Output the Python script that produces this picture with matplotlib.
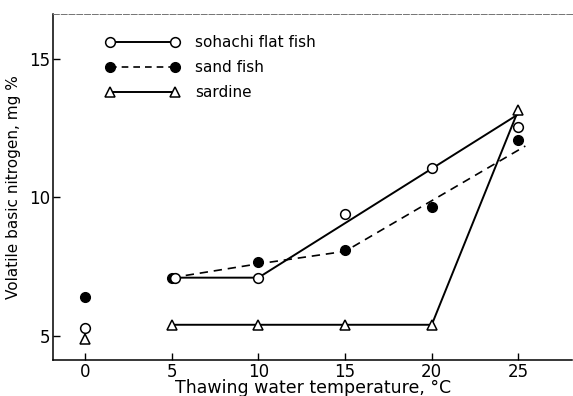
import numpy as np
from matplotlib import pyplot as plt

# thawing water temperature (C)
temps = [0, 5, 10, 15, 20, 25]

# volatile basic nitrogen, mg %
flatfish = [5.3, 7.1, 7.1, 9.4, 11.05, 12.55]
sandfish = [6.4, 7.1, 7.65, 8.1, 9.65, 12.05]
sardine = [4.9, 5.4, 5.4, 5.4, 5.4, 13.15]

# hand drawn trend lines (x, y knots)
flatfish_fit_x = [5, 10, 25]
flatfish_fit_y = [7.1, 7.1, 13.0]
sandfish_fit_x = [5, 10, 15, 25.4]
sandfish_fit_y = [7.1, 7.6, 8.05, 11.85]
sardine_fit_x = [5, 20, 25]
sardine_fit_y = [5.4, 5.4, 13.15]

fig = plt.figure(figsize=(5.73, 3.96), dpi=100)
ax = fig.add_axes([0.0925, 0.091, 0.906, 0.874])

ax.plot(flatfish_fit_x, flatfish_fit_y, '-', color='black', lw=1.4, zorder=2)
ax.plot(sandfish_fit_x, sandfish_fit_y, '--', color='black', lw=1.2, dashes=(5, 3.5), zorder=2)
ax.plot(sardine_fit_x, sardine_fit_y, '-', color='black', lw=1.4, zorder=2)

ax.plot(temps, sandfish, 'o', ms=7, mfc='black', mec='black', zorder=3)
ax.plot(np.array(temps) + np.array([0, 0.2, 0, 0, 0, 0]), flatfish, 'o', ms=7,
        mfc='white', mec='black', mew=1.1, zorder=4)
ax.plot(temps, sardine, '^', ms=6.5, mfc='white', mec='black', mew=1.1, zorder=4)

# legend drawn as sample lines with markers at both ends
leg_x = [1.45, 5.2]
leg_y = [15.6, 14.7, 13.8]
names = ['sohachi flat fish', 'sand fish', 'sardine']
ax.plot(leg_x, [leg_y[0]] * 2, '-', color='black', lw=1.4)
ax.plot(leg_x, [leg_y[0]] * 2, 'o', ms=7, mfc='white', mec='black', mew=1.1)
ax.plot(leg_x, [leg_y[1]] * 2, '--', color='black', lw=1.2, dashes=(4, 3))
ax.plot(leg_x, [leg_y[1]] * 2, 'o', ms=7, mfc='black', mec='black')
ax.plot(leg_x, [leg_y[2]] * 2, '-', color='black', lw=1.4)
ax.plot(leg_x, [leg_y[2]] * 2, '^', ms=6.5, mfc='white', mec='black', mew=1.1)
for y, n in zip(leg_y, names):
    ax.text(6.35, y, n, fontsize=11, va='center', ha='left')

ax.set_xlim(-1.85, 28.1)
ax.set_ylim(4.13, 16.62)
ax.set_xticks([0, 5, 10, 15, 20, 25])
ax.set_yticks([5, 10, 15])
ax.tick_params(direction='in', length=5, width=1, labelsize=12, pad=2)
ax.set_xlabel('Thawing water temperature, °C', fontsize=12.5, labelpad=-1)
ax.set_ylabel('Volatile basic nitrogen, mg %', fontsize=11, labelpad=6)

ax.spines['right'].set_visible(False)
ax.spines['top'].set_color('0.45')
ax.spines['top'].set_linestyle((0, (6, 2)))
ax.spines['top'].set_linewidth(0.7)
ax.spines['left'].set_linewidth(1.1)
ax.spines['bottom'].set_linewidth(1.1)

plt.savefig('out.png', dpi=100)
